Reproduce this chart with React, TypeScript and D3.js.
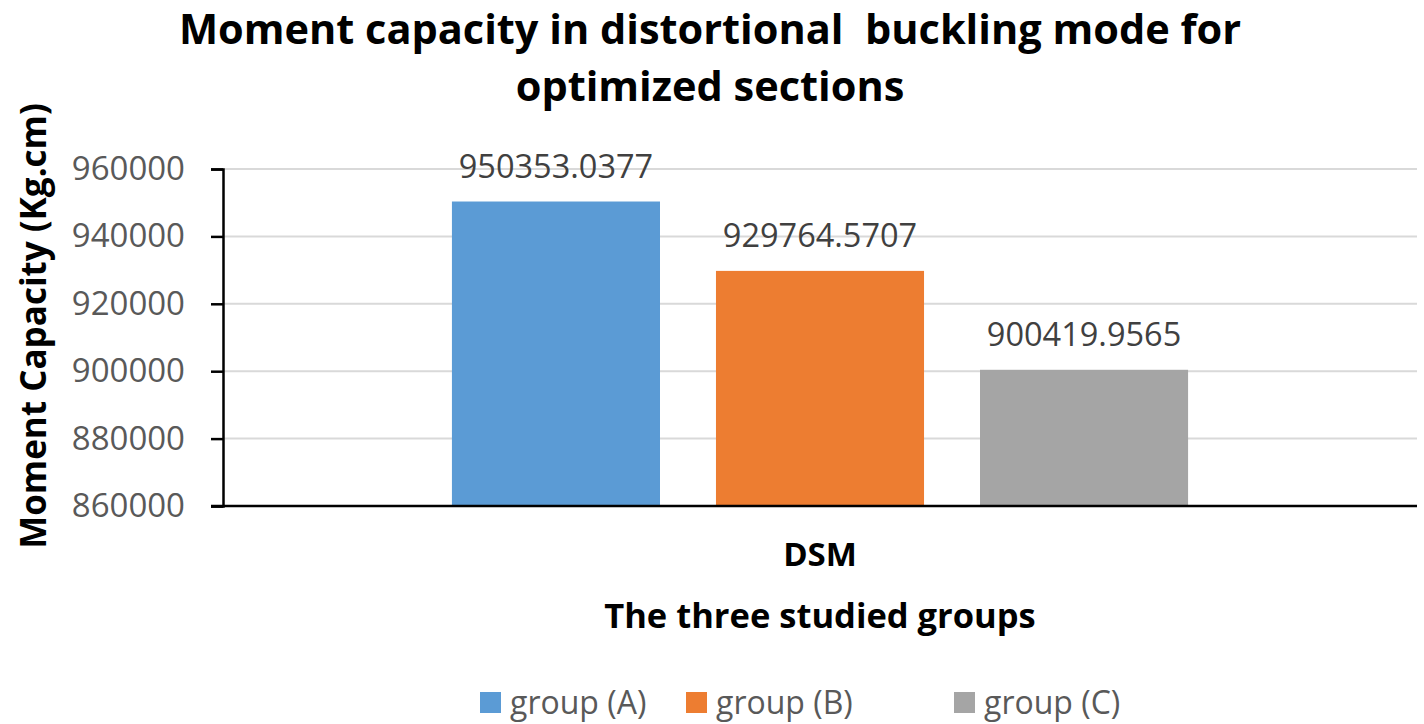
import { useRef, useEffect } from 'react';
import * as d3 from 'd3';

const categories = ['DSM'];
const groups = ['group (A)', 'group (B)', 'group (C)'];
const values = [950353.0377, 929764.5707, 900419.9565];
const colors = ['#5B9BD5', '#ED7D31', '#A5A5A5'];
const yTicks = [860000, 880000, 900000, 920000, 940000, 960000];
const titleLines = ['Moment capacity in distortional\u00a0 buckling mode for', 'optimized sections'];

export default function App() {
  const ref = useRef<SVGSVGElement>(null);

  useEffect(() => {
    const svg = d3.select(ref.current);
    svg.selectAll('*').remove();
    const font = "'Open Sans', sans-serif";
    const m = { left: 223, right: 1417, top: 169, bottom: 506 };

    const x0 = d3.scaleBand().domain(categories).range([m.left, m.right]).padding(0);
    const x1 = d3
      .scaleBand()
      .domain(groups)
      .range([0, x0.bandwidth()])
      .paddingInner(0.212)
      .paddingOuter(0.867);
    const y = d3.scaleLinear().domain([860000, 960000]).range([m.bottom, m.top]);

    // gridlines
    svg
      .append('g')
      .selectAll('line')
      .data(yTicks.slice(1))
      .enter()
      .append('line')
      .attr('x1', m.left)
      .attr('x2', m.right)
      .attr('y1', (d) => y(d))
      .attr('y2', (d) => y(d))
      .attr('stroke', '#d9d9d9')
      .attr('stroke-width', 2);

    // bars
    const cg = svg.append('g').attr('transform', `translate(${x0('DSM')},0)`);
    cg.selectAll('rect')
      .data(values)
      .enter()
      .append('rect')
      .attr('x', (_, i) => x1(groups[i])!)
      .attr('width', x1.bandwidth())
      .attr('y', (d) => y(d))
      .attr('height', (d) => y.range()[0] - y(d))
      .attr('fill', (_, i) => colors[i]);
    cg.selectAll('text.lbl')
      .data(values)
      .enter()
      .append('text')
      .attr('class', 'lbl')
      .attr('x', (_, i) => x1(groups[i])! + x1.bandwidth() / 2)
      .attr('y', (d) => y(d) - 24)
      .attr('text-anchor', 'middle')
      .attr('fill', '#404040')
      .style('font-family', font)
      .style('font-size', '32.5px')
      .text((d) => d3.format('.4f')(d));

    // y axis
    const ya = svg
      .append('g')
      .attr('transform', `translate(${m.left},0)`)
      .call(d3.axisLeft(y).tickValues(yTicks).tickSize(12).tickPadding(26).tickFormat(d3.format('d')));
    ya.select('.domain').attr('stroke', '#000').attr('stroke-width', 2.5);
    ya.selectAll('.tick line').attr('stroke', '#000').attr('stroke-width', 2.5);
    ya.selectAll('text').attr('fill', '#595959').style('font-family', font).style('font-size', '33px');

    // x axis
    svg
      .append('line')
      .attr('x1', m.left - 12)
      .attr('x2', m.right)
      .attr('y1', m.bottom)
      .attr('y2', m.bottom)
      .attr('stroke', '#000')
      .attr('stroke-width', 2.5);
    svg
      .append('text')
      .attr('x', x0('DSM')! + x0.bandwidth() / 2)
      .attr('y', 566)
      .attr('text-anchor', 'middle')
      .style('font-family', font)
      .style('font-weight', 700)
      .style('font-size', '33px')
      .text('DSM');

    // titles
    svg
      .append('text')
      .attr('x', 820)
      .attr('y', 628)
      .attr('text-anchor', 'middle')
      .style('font-family', font)
      .style('font-weight', 700)
      .style('font-size', '34.5px')
      .text('The three studied groups');
    svg
      .append('text')
      .attr('transform', `translate(46,326) rotate(-90)`)
      .attr('text-anchor', 'middle')
      .style('font-family', font)
      .style('font-weight', 700)
      .style('font-size', '35px')
      .text('Moment Capacity (Kg.cm)');
    svg
      .selectAll('text.title')
      .data(titleLines)
      .enter()
      .append('text')
      .attr('class', 'title')
      .attr('x', 710)
      .attr('y', (_, i) => 44 + i * 57)
      .attr('text-anchor', 'middle')
      .style('font-family', font)
      .style('font-weight', 700)
      .style('font-size', '41.5px')
      .text((d) => d);

    // legend
    const lx = [480, 686, 954];
    const lg = svg.append('g');
    groups.forEach((g, i) => {
      lg.append('rect').attr('x', lx[i]).attr('y', 692).attr('width', 21).attr('height', 21).attr('fill', colors[i]);
      lg.append('text')
        .attr('x', lx[i] + 30)
        .attr('y', 714)
        .attr('fill', '#595959')
        .style('font-family', font)
        .style('font-size', '32px')
        .text(g);
    });
  }, []);

  return (
    <svg
      ref={ref}
      width={1424}
      height={724}
      style={{ position: 'absolute', left: 0, top: 0, background: '#fff' }}
    />
  );
}
